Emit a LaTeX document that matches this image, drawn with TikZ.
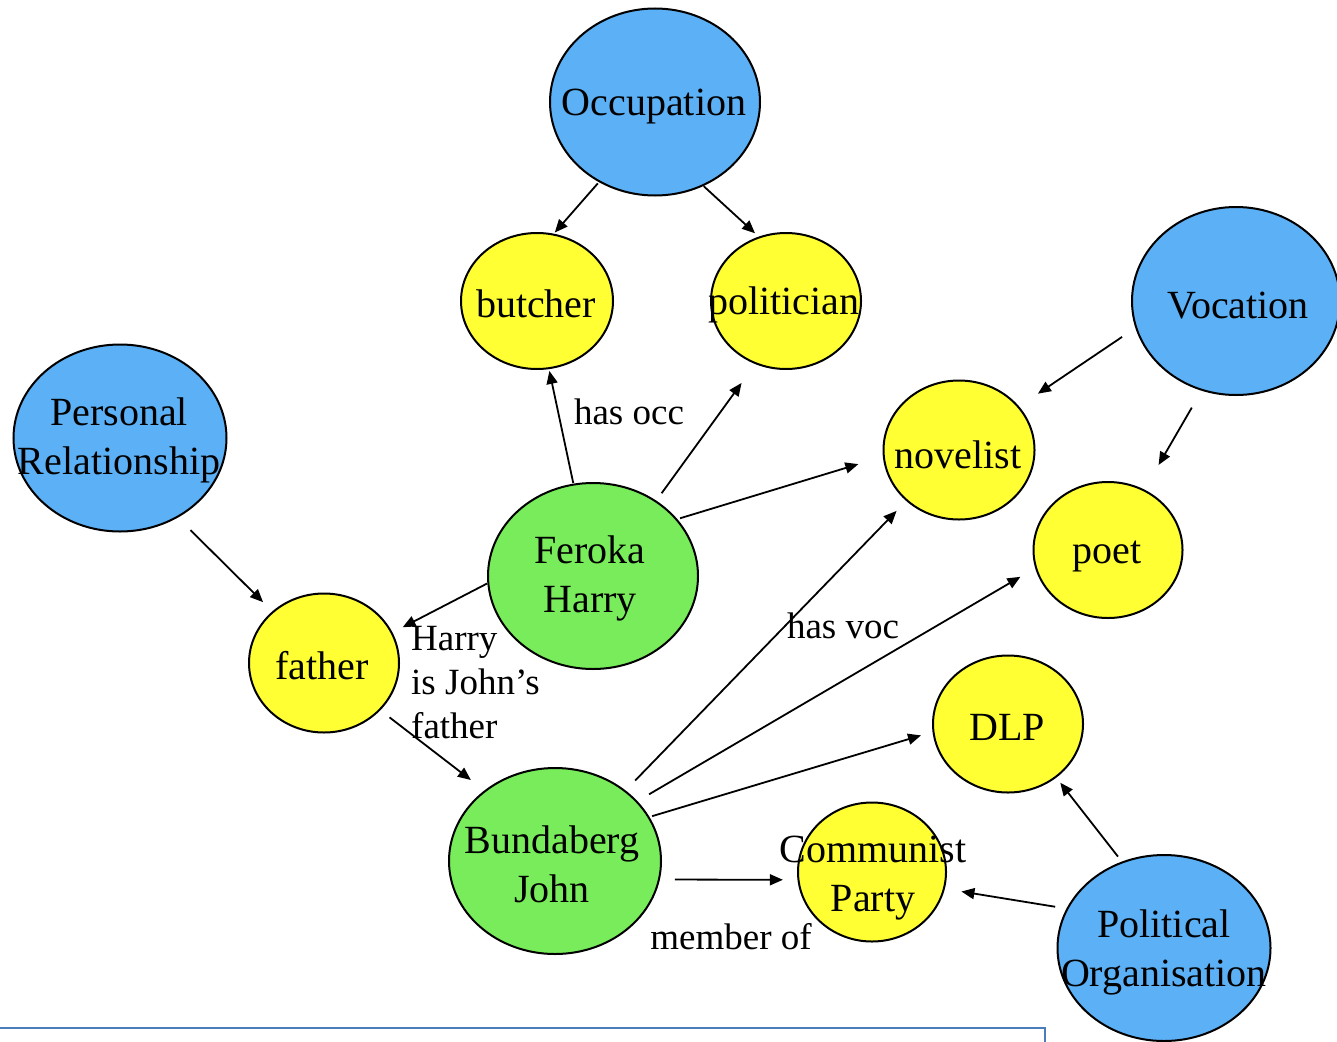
\documentclass[tikz,border=0pt]{standalone}
\usepackage{fontspec}
\setmainfont{Liberation Serif}
\usetikzlibrary{shapes.geometric,arrows.meta}
\definecolor{cblue}{RGB}{92,176,245}
\definecolor{cyellow}{RGB}{255,255,51}
\definecolor{cgreen}{RGB}{120,236,90}
\definecolor{boxblue}{RGB}{74,126,187}
\begin{document}
\begin{tikzpicture}[x=1pt,y=-1pt,
  bub/.style={ellipse, draw=black, line width=2pt, inner sep=0pt},
  bluebub/.style={bub, fill=cblue, minimum width=212pt, minimum height=186pt},
  yelbub/.style={bub, fill=cyellow, minimum width=150pt, minimum height=138pt},
  grnbub/.style={bub, fill=cgreen, minimum width=211pt, minimum height=186pt},
  lbl/.style={inner sep=0pt, align=center, yshift=-3pt, font=\fontsize{40}{49}\selectfont},
  elbl/.style={inner sep=0pt, align=left, font=\fontsize{37}{44}\selectfont},
  conn/.style={line width=1.8pt, -{Triangle[length=13pt,width=11pt]}}
]
\clip (0,0) rectangle (1337,1041);
\fill[white] (0,0) rectangle (1337,1041);

% bubbles
\node[bluebub, minimum width=210pt, minimum height=187pt] (occ) at (655,102) {};
\node[yelbub, minimum width=152pt, minimum height=136pt] (butcher) at (537,301) {};
\node[yelbub, minimum width=150pt, minimum height=136pt] (pol) at (786,301) {};
\node[bluebub, minimum width=208pt, minimum height=188pt] (voc) at (1236,301) {};
\node[bluebub, minimum width=213pt, minimum height=187pt] (pers) at (120,438) {};
\node[yelbub, minimum width=151pt, minimum height=139pt] (nov) at (959,450) {};
\node[yelbub, minimum width=149pt, minimum height=136pt] (poet) at (1108,550) {};
\node[grnbub, minimum width=210pt, minimum height=186pt] (fer) at (593,576) {};
\node[yelbub, minimum width=150pt, minimum height=139pt] (father) at (324,663) {};
\node[yelbub, minimum width=150pt, minimum height=137pt] (dlp) at (1008,724) {};
\node[grnbub, minimum width=212pt, minimum height=186pt] (bund) at (555,861) {};
\node[yelbub, minimum width=148pt, minimum height=139pt] (comm) at (872,872) {};
\node[bluebub, minimum width=213pt, minimum height=186pt] (polorg) at (1164,948) {};

% texts
\node[lbl] (occt) at (654,104) {Occupation};
\node[lbl] (butt) at (536,301) {butcher};
\node[lbl] (polt) at (784,302) {politician};
\node[lbl] (voct) at (1238,303) {Vocation};
\node[lbl] (perst) at (119,437) {Personal\\Relationship};
\node[lbl] (novt) at (958,452) {novelist};
\node[lbl] (poett) at (1107,553) {poet};
\node[lbl] (fert) at (590,575) {Feroka\\Harry};
\node[lbl] (fathert) at (322,663) {father};
\node[lbl] (dlpt) at (1007,724) {DLP};
\node[lbl] (bundt) at (552,861) {Bundaberg\\John};
\node[lbl] (commt) at (873,875) {Communist\\Party};
\node[lbl] (polorgt) at (1164,949) {Political\\Organisation};

% connectors
\draw[conn, shorten <=1.6pt, shorten >=1.5pt] (occ.-125.5) -- (butcher.76.8);
\draw[conn, shorten <=0.3pt, shorten >=4.9pt] (occ.-60) -- (pol.113.1);
\draw[conn, shorten <=16pt, shorten >=22.7pt] (voc.195.5) -- (nov.36.5);
\draw[conn, shorten <=19.5pt, shorten >=28.4pt] (voc.249) -- (poet.59.2);
\draw[conn, shorten <=17.7pt, shorten >=13pt] (pers.-54.2) -- (father.135.5);
\draw[conn, shorten <=0.6pt, shorten >=1.8pt] (fer.102.3) -- (butcher.-80.1);
\draw[conn, shorten <=9.1pt, shorten >=23.3pt] (fer.50.3) -- (pol.-116.3);
\draw[conn, shorten <=2.8pt, shorten >=25.6pt] (fer.34.8) -- (nov.185.7);
\draw[conn, shorten <=0.3pt, shorten >=11.4pt] (fer.184.4) -- (father.24.2);
\draw[conn, shorten <=11.6pt, shorten >=17pt] (father.-40.7) -- (bund.135);
\draw[conn, shorten <=13.7pt, shorten >=13.8pt] (bund.45.4) -- (nov.-136.9);
\draw[conn, shorten <=13.5pt, shorten >=17.1pt] (bund.36.5) -- (poet.194);
\draw[conn, shorten <=2.7pt, shorten >=12pt] (bund.25.1) -- (dlp.186.6);
\draw[conn, shorten <=15pt, shorten >=14.6pt] (bund.-10.4) -- (comm.186.3);
\draw[conn, shorten <=6.3pt, shorten >=6.4pt] (polorg.116.3) -- (dlp.-48.1);
\draw[conn, shorten <=11.4pt, shorten >=16.8pt] (polorg.158.1) -- (comm.-13.4);

% connector labels
\node[elbl] (hasocc) at (629,412) {has occ};
\node[elbl, anchor=west] (fatherof) at (411,683) {Harry\\is John’s\\father};
\node[elbl] (hasvoc) at (843,626) {has voc};
\node[elbl] (member) at (731,937) {member of};

% frame edge at bottom
\draw[boxblue, line width=2pt] (-2,1028) -- (1045,1028) -- (1045,1050);
\end{tikzpicture}
\end{document}
